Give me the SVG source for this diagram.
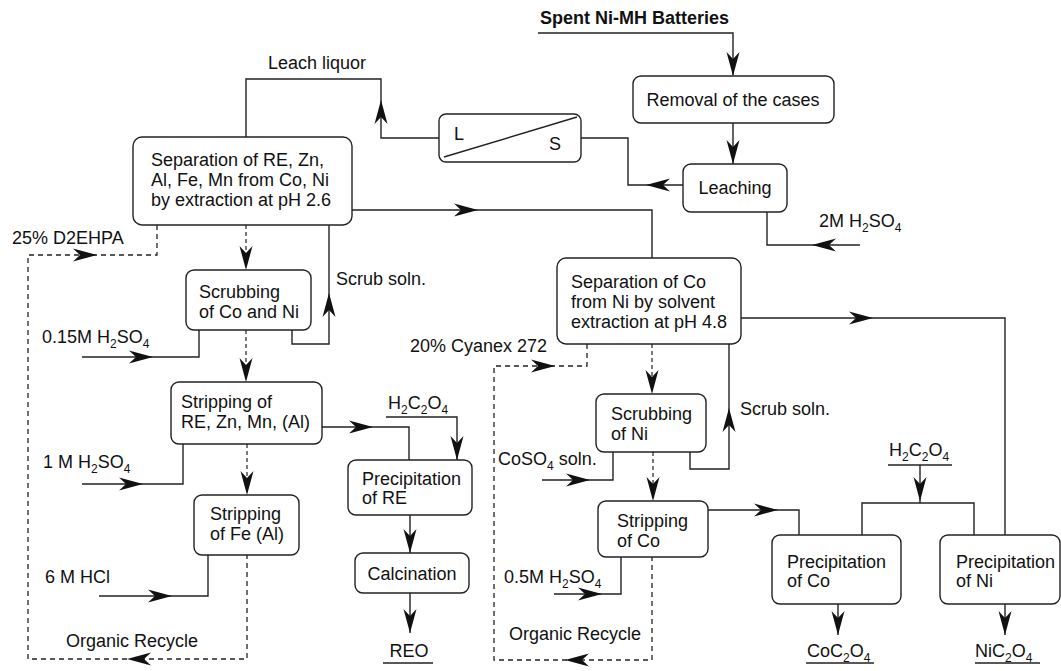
<svg xmlns="http://www.w3.org/2000/svg" xmlns:xlink="http://www.w3.org/1999/xlink" width="1061" height="671" viewBox="0 0 1061 671">
<style>
text{font-family:"Liberation Sans",Arial,Helvetica,sans-serif;font-size:18px;fill:#111}
.b{font-weight:bold}
.m{text-anchor:middle}
.s{font-size:12px}
.box{fill:#fff;stroke:#222;stroke-width:1.4}
.ln{fill:none;stroke:#222;stroke-width:1.4}
.ds{fill:none;stroke:#222;stroke-width:1.3;stroke-dasharray:5,4}
.dt{fill:none;stroke:#222;stroke-width:1.2;stroke-dasharray:4,3}
.ah{fill:#111;stroke:none}
</style>
<defs>
<path id="ah" class="ah" d="M0,0 L-24,-6.5 L-17,0 L-24,6.5 Z"/>
</defs>
<rect width="1061" height="671" fill="#fff"/>

<g id="connectors">
<path class="ln" d="M538,33 H733 V75"/>
<path class="ln" d="M733,123 V164"/>
<path class="ln" d="M683,185 H628 V138 H581"/>
<path class="ln" d="M439,138 H381 V79 H246 V137"/>
<path class="ln" d="M352,210 H652 V258"/>
<path class="ln" d="M82,357 H199 V330"/>
<path class="ln" d="M292,330 V344 H329 V225"/>
<path class="ln" d="M322,427 H409 V460"/>
<path class="ln" d="M386,417 H457 V460"/>
<path class="ln" d="M410,515 V553"/>
<path class="ln" d="M410,593 V633"/>
<path class="ln" d="M383,663 H433"/>
<path class="ln" d="M82,484 H183 V444"/>
<path class="ln" d="M99,596 H208 V555"/>
<path class="ln" d="M767,212 V245 H860"/>
<path class="ln" d="M741,318 H1005 V535"/>
<path class="ln" d="M690,452 V469 H729 V344"/>
<path class="ln" d="M542,480 H613 V452"/>
<path class="ln" d="M708,510 H799 V535"/>
<path class="ln" d="M554,594 H621 V557"/>
<path class="ln" d="M888,465 H952 M920,465 V503 M862,535 V503 H974 V535"/>
<path class="ln" d="M838,604 V635"/>
<path class="ln" d="M1005,604 V635"/>
<path class="ln" d="M806,663 H874 M975,663 H1040"/>
<path class="ds" d="M157,225 V255 H28 V659 H247 V555"/>
<path class="ds" d="M587,344 V366 H494 V660 H652 V557"/>
<path class="dt" d="M246,225 V262"/>
<path class="dt" d="M246,330 V374"/>
<path class="dt" d="M247,444 V487"/>
<path class="dt" d="M652,344 V386"/>
<path class="dt" d="M653,452 V493"/>
<use xlink:href="#ah" transform="translate(733,76) rotate(90)"/>
<use xlink:href="#ah" transform="translate(733,164) rotate(90)"/>
<use xlink:href="#ah" transform="translate(646,185) rotate(180)"/>
<use xlink:href="#ah" transform="translate(381,100) rotate(-90)"/>
<use xlink:href="#ah" transform="translate(478,210)"/>
<use xlink:href="#ah" transform="translate(97,255)"/>
<use xlink:href="#ah" transform="translate(246,270) rotate(90)"/>
<use xlink:href="#ah" transform="translate(329,293) rotate(-90)"/>
<use xlink:href="#ah" transform="translate(153,357)"/>
<use xlink:href="#ah" transform="translate(246,382) rotate(90)"/>
<use xlink:href="#ah" transform="translate(373,427)"/>
<use xlink:href="#ah" transform="translate(457,460) rotate(90)"/>
<use xlink:href="#ah" transform="translate(410,553) rotate(90)"/>
<use xlink:href="#ah" transform="translate(410,633) rotate(90)"/>
<use xlink:href="#ah" transform="translate(143,484)"/>
<use xlink:href="#ah" transform="translate(247,495) rotate(90)"/>
<use xlink:href="#ah" transform="translate(172,596)"/>
<use xlink:href="#ah" transform="translate(127,659) rotate(180)"/>
<use xlink:href="#ah" transform="translate(812,245) rotate(180)"/>
<use xlink:href="#ah" transform="translate(873,318)"/>
<use xlink:href="#ah" transform="translate(555,366)"/>
<use xlink:href="#ah" transform="translate(652,394) rotate(90)"/>
<use xlink:href="#ah" transform="translate(729,408) rotate(-90)"/>
<use xlink:href="#ah" transform="translate(590,480)"/>
<use xlink:href="#ah" transform="translate(653,501) rotate(90)"/>
<use xlink:href="#ah" transform="translate(778,510)"/>
<use xlink:href="#ah" transform="translate(602,594)"/>
<use xlink:href="#ah" transform="translate(565,660) rotate(180)"/>
<use xlink:href="#ah" transform="translate(920,501) rotate(90)"/>
<use xlink:href="#ah" transform="translate(838,635) rotate(90)"/>
<use xlink:href="#ah" transform="translate(1005,635) rotate(90)"/>
</g>

<g id="spent"><text class="b" x="540" y="24">Spent Ni-MH Batteries</text></g>
<g id="removal"><rect class="box" x="633" y="76" width="201" height="47" rx="8"/><text class="m" x="733" y="106">Removal of the cases</text></g>
<g id="leaching"><rect class="box" x="683" y="164" width="104" height="48" rx="8"/><text class="m" x="735" y="194">Leaching</text></g>
<g id="ls"><rect class="box" x="439" y="114" width="142" height="48" rx="7"/><path class="ln" d="M444,157 L577,117"/><text x="454" y="140">L</text><text x="549" y="150">S</text></g>
<g id="leach-liquor"><text x="268" y="69">Leach liquor</text></g>
<g id="sep1"><rect class="box" x="133" y="137" width="219" height="88" rx="9"/>
<text x="151" y="166">Separation of RE, Zn,</text><text x="151" y="186">Al, Fe, Mn from Co, Ni</text><text x="151" y="206">by extraction at pH 2.6</text></g>
<g id="d2ehpa"><text x="12" y="244">25% D2EHPA</text></g>
<g id="scrub1"><rect class="box" x="186" y="270" width="125" height="60" rx="8"/><text x="199" y="298">Scrubbing</text><text x="199" y="318">of Co and Ni</text></g>
<g id="scrubsoln1"><text x="336" y="285">Scrub soln.</text></g>
<g id="h2so4-015"><text x="42" y="343">0.15M H<tspan class="s" dy="5">2</tspan><tspan dy="-5">SO</tspan><tspan class="s" dy="5">4</tspan></text></g>
<g id="strip-re"><rect class="box" x="171" y="382" width="151" height="62" rx="8"/><text x="181" y="408">Stripping of</text><text x="181" y="428">RE, Zn, Mn, (Al)</text></g>
<g id="h2so4-1"><text x="43" y="468">1 M H<tspan class="s" dy="5">2</tspan><tspan dy="-5">SO</tspan><tspan class="s" dy="5">4</tspan></text></g>
<g id="strip-fe"><rect class="box" x="194" y="495" width="105" height="60" rx="8"/><text x="210" y="520">Stripping</text><text x="210" y="540">of Fe (Al)</text></g>
<g id="hcl"><text x="45" y="583">6 M HCl</text></g>
<g id="recycle1"><text x="66" y="647">Organic Recycle</text></g>
<g id="h2c2o4-1"><text x="388" y="409">H<tspan class="s" dy="5">2</tspan><tspan dy="-5">C</tspan><tspan class="s" dy="5">2</tspan><tspan dy="-5">O</tspan><tspan class="s" dy="5">4</tspan></text></g>
<g id="prec-re"><rect class="box" x="348" y="460" width="124" height="55" rx="8"/><text x="362" y="485">Precipitation</text><text x="362" y="504">of RE</text></g>
<g id="calc"><rect class="box" x="355" y="553" width="114" height="40" rx="8"/><text class="m" x="412" y="580">Calcination</text></g>
<g id="reo"><text class="m" x="409" y="657">REO</text></g>
<g id="h2so4-2"><text x="819" y="227">2M H<tspan class="s" dy="5">2</tspan><tspan dy="-5">SO</tspan><tspan class="s" dy="5">4</tspan></text></g>
<g id="sep2"><rect class="box" x="557" y="258" width="184" height="86" rx="9"/>
<text x="571" y="288">Separation of Co</text><text x="571" y="308">from Ni by solvent</text><text x="571" y="328">extraction at pH 4.8</text></g>
<g id="cyanex"><text x="410" y="352">20% Cyanex 272</text></g>
<g id="scrub2"><rect class="box" x="596" y="394" width="110" height="58" rx="8"/><text x="611" y="420">Scrubbing</text><text x="611" y="440">of Ni</text></g>
<g id="scrubsoln2"><text x="740" y="415">Scrub soln.</text></g>
<g id="coso4"><text x="498" y="465">CoSO<tspan class="s" dy="5">4</tspan><tspan dy="-5"> soln.</tspan></text></g>
<g id="strip-co"><rect class="box" x="598" y="501" width="110" height="56" rx="8"/><text x="617" y="527">Stripping</text><text x="617" y="547">of Co</text></g>
<g id="h2so4-05"><text x="504" y="583">0.5M H<tspan class="s" dy="5">2</tspan><tspan dy="-5">SO</tspan><tspan class="s" dy="5">4</tspan></text></g>
<g id="recycle2"><text x="509" y="640">Organic Recycle</text></g>
<g id="h2c2o4-2"><text x="889" y="456">H<tspan class="s" dy="5">2</tspan><tspan dy="-5">C</tspan><tspan class="s" dy="5">2</tspan><tspan dy="-5">O</tspan><tspan class="s" dy="5">4</tspan></text></g>
<g id="prec-co"><rect class="box" x="772" y="535" width="129" height="69" rx="8"/><text x="787" y="568">Precipitation</text><text x="787" y="587">of Co</text></g>
<g id="prec-ni"><rect class="box" x="940" y="535" width="120" height="69" rx="8"/><text x="956" y="568">Precipitation</text><text x="956" y="587">of Ni</text></g>
<g id="coc2o4"><text x="807" y="657">CoC<tspan class="s" dy="5">2</tspan><tspan dy="-5">O</tspan><tspan class="s" dy="5">4</tspan></text></g>
<g id="nic2o4"><text x="975" y="657">NiC<tspan class="s" dy="5">2</tspan><tspan dy="-5">O</tspan><tspan class="s" dy="5">4</tspan></text></g>
</svg>
